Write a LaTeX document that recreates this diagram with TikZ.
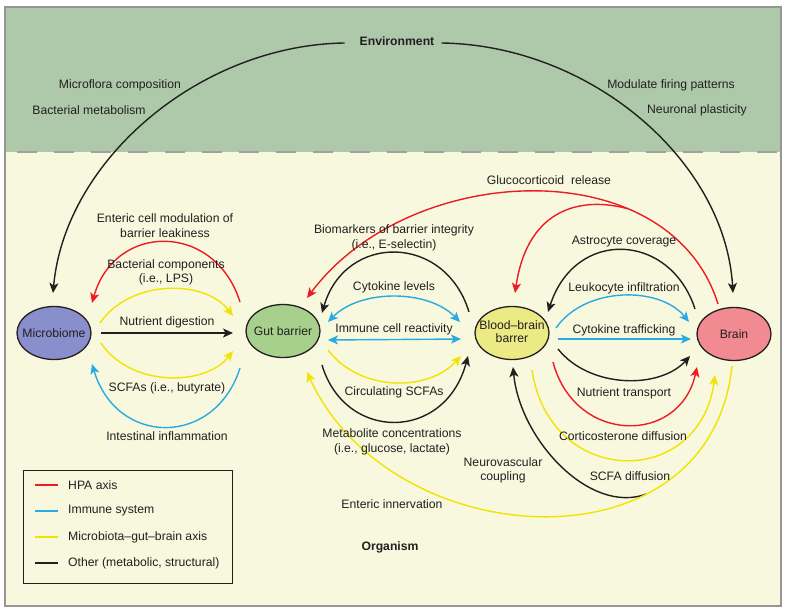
\documentclass[tikz,border=0pt]{standalone}
\usepackage{fontspec}
\setmainfont{Liberation Sans}
\usetikzlibrary{arrows.meta,calc,shapes.geometric}
\definecolor{envgreen}{RGB}{173,201,170}
\definecolor{cream}{RGB}{248,248,222}
\definecolor{hpared}{RGB}{237,28,36}
\definecolor{immblue}{RGB}{41,171,226}
\definecolor{mgbyellow}{RGB}{240,228,0}
\definecolor{txt}{RGB}{35,31,32}
\definecolor{framegray}{RGB}{150,150,150}
\definecolor{dashgray}{RGB}{160,160,160}
\definecolor{mbfill}{RGB}{137,142,204}
\definecolor{gutfill}{RGB}{168,208,141}
\definecolor{bbbfill}{RGB}{236,234,132}
\definecolor{brainfill}{RGB}{242,138,146}
\newcommand{\zw}[1]{\makebox[0pt][c]{#1}}
\tikzset{
  >={Stealth[length=10pt,width=9pt,inset=2.5pt]},
  lbl/.style={inner sep=0pt, align=center, text=txt},
  ell/.style={ellipse, draw=txt, line width=1.3pt, minimum width=74pt, minimum height=53pt, inner sep=0pt, text=txt},
  con/.style={line width=1.4pt, ->},
  redc/.style={con, draw=hpared},
  bluc/.style={con, draw=immblue},
  yelc/.style={con, draw=mgbyellow},
  blkc/.style={con, draw=txt},
  legline/.style={line width=2pt}
}
\begin{document}
\begin{tikzpicture}[x=1pt,y=-1pt, font=\fontsize{12.2}{14.5}\selectfont]
\useasboundingbox (0,0) rectangle (791,613);
\fill[white] (0,0) rectangle (791,613);
\fill[cream] (5,7) rectangle (781,606);
\fill[envgreen] (5,7) rectangle (781,152);
\draw[framegray, line width=1.5pt] (5,7) rectangle (781,606);
\draw[dashgray, line width=2.5pt, dash pattern=on 20pt off 17pt] (17,152) -- (781,152);

% nodes
\node[ell, fill=mbfill] (mb) at (54,333) {\zw{Microbiome}};
\node[ell, fill=gutfill] (gut) at (283,331) {\zw{Gut barrier}};
\node[ell, fill=bbbfill] (bbb) at (512,333) {\zw{\begin{tabular}{@{}c@{}}Blood–brain\\[-1pt]barrer\end{tabular}}};
\node[ell, fill=brainfill] (brain) at (734,334) {\zw{Brain}};

% environment
\node[lbl] (tenv) at (397,41) {\bfseries Environment};
\node[lbl] (torg) at (390,547) {\bfseries Organism};
\node[lbl] (tmf) at (120,85) {Microflora composition};
\node[lbl] (tbm) at (89,110) {Bacterial metabolism};
\node[lbl] (tmfp) at (671,85) {Modulate firing patterns};
\node[lbl] (tnp) at (697,110) {Neuronal plasticity};
\draw[blkc] ($(tenv.west)+(-15,2)$) .. controls (200,45) and (65,160) .. ($(mb)+(-1,-40)$);
\draw[blkc] ($(tenv.east)+(7,2)$) .. controls (590,45) and (725,160) .. ($(brain)+(-1,-41)$);

% microbiome <-> gut barrier
\draw[redc] ($(gut)+(-43,-29)$) .. controls (215,222) and (115,222) .. ($(mb)+(38,-30)$);
\draw[yelc] ($(mb)+(46,-10)$) .. controls (130,279) and (205,279) .. ($(gut)+(-50,-15)$);
\draw[blkc] ($(mb)+(47,0)$) -- ($(gut)+(-50,2)$);
\draw[yelc] ($(mb)+(47,10)$) .. controls (130,387) and (205,387) .. ($(gut)+(-50,20)$);
\draw[bluc] ($(gut)+(-43,37)$) .. controls (215,447) and (117,447) .. ($(mb)+(38,31)$);

% gut barrier <-> BBB
\draw[redc] ($(brain)+(-16,-30)$) .. controls (670,150) and (410,160) .. ($(gut)+(24,-33)$) coordinate[pos=0.3] (gcb);
\draw[redc] (gcb) .. controls (585,197) and (528,205) .. ($(bbb)+(3,-40)$);
\draw[blkc] ($(bbb)+(-43,-21)$) .. controls (445,233) and (345,233) .. ($(gut)+(39,-18)$);
\draw[bluc, <->] ($(gut)+(45,-9)$) .. controls (360,289) and (428,289) .. ($(bbb)+(-52,-11)$);
\draw[bluc, <->] ($(gut)+(45,9)$) -- ($(bbb)+(-51,6)$);
\draw[yelc] ($(gut)+(45,19)$) .. controls (360,392) and (428,392) .. ($(bbb)+(-51,23)$);
\draw[blkc] ($(gut)+(39,34)$) .. controls (345,442) and (445,442) .. ($(bbb)+(-44,23)$);

% BBB <-> brain
\draw[blkc] ($(brain)+(-39,-25)$) .. controls (670,232) and (575,228) .. ($(bbb)+(36,-21)$);
\draw[bluc] ($(bbb)+(44,-5)$) .. controls (585,286) and (660,286) .. ($(brain)+(-45,-12)$);
\draw[bluc] ($(bbb)+(46,6)$) -- ($(brain)+(-43,5)$);
\draw[blkc] ($(bbb)+(46,16)$) .. controls (590,389) and (660,389) .. ($(brain)+(-44,22)$);
\draw[redc] ($(bbb)+(41,29)$) .. controls (575,445) and (680,445) .. ($(brain)+(-37,33)$);
\draw[yelc] ($(bbb)+(20,37)$) .. controls (550,489) and (700,489) .. ($(brain)+(-19,41)$);

% long bottom arcs
\path ($(brain)+(-2,32)$) .. controls (710,575) and (390,555) .. ($(gut)+(24,41)$) coordinate[pos=0.3] (nv);
\draw[blkc] (nv) .. controls (590,515) and (520,440) .. ($(bbb)+(1,34)$);
\draw[yelc] ($(brain)+(-2,32)$) .. controls (710,575) and (390,555) .. ($(gut)+(24,41)$);

% labels
\node[lbl] (t1) at (165,225.5) {Enteric cell modulation of\\barrier leakiness};
\node[lbl] (t2) at (166,272.5) {Bacterial components\\(i.e., LPS)};
\node[lbl] (t3) at (167,322) {Nutrient digestion};
\node[lbl] (t4) at (167,388) {SCFAs (i.e., butyrate)};
\node[lbl] (t5) at (167,436) {Intestinal inflammation};
\node[lbl] (t6) at (549,180) {Glucocorticoid\ \ release};
\node[lbl] (t7) at (394,238) {Biomarkers of barrier integrity\\(i.e., E-selectin)};
\node[lbl] (t8) at (394,287) {Cytokine levels};
\node[lbl] (t9) at (394,329) {Immune cell reactivity};
\node[lbl] (t10) at (394,392) {Circulating SCFAs};
\node[lbl] (t11) at (392,442) {Metabolite concentrations\\(i.e., glucose, lactate)};
\node[lbl] (t12) at (624,242) {Astrocyte coverage};
\node[lbl] (t13) at (624,288) {Leukocyte infiltration};
\node[lbl] (t14) at (624,330) {Cytokine trafficking};
\node[lbl] (t15) at (624,393) {Nutrient transport};
\node[lbl] (t16) at (623,436) {Corticosterone diffusion};
\node[lbl] (t17) at (503,470.5) {Neurovascular\\coupling};
\node[lbl] (t18) at (630,476) {SCFA diffusion};
\node[lbl] (t19) at (392,504) {Enteric innervation};

% legend
\draw[txt, line width=0.8pt] (23,470) rectangle (232,583);
\draw[legline, hpared] (35,485) -- (58,485);
\node[lbl, anchor=west] (lg1) at (68,485) {HPA axis};
\draw[legline, immblue] (35,511) -- (58,511);
\node[lbl, anchor=west] (lg2) at (68,511) {Immune system};
\draw[legline, mgbyellow] (35,537) -- (58,537);
\node[lbl, anchor=west] (lg3) at (68,537) {Microbiota–gut–brain axis};
\draw[legline, txt] (35,563) -- (58,563);
\node[lbl, anchor=west] (lg4) at (68,563) {Other (metabolic, structural)};
\end{tikzpicture}
\end{document}
